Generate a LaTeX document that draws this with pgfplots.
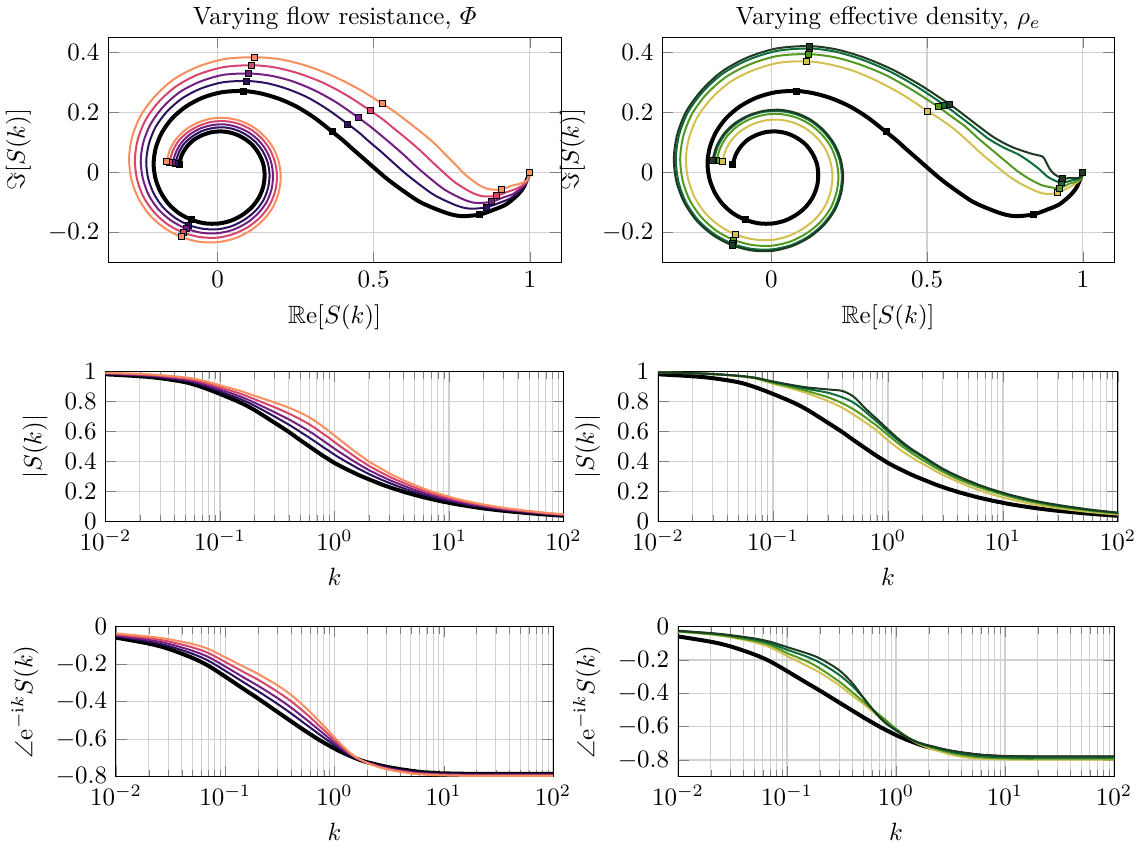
\documentclass[border=0pt]{standalone}
\usepackage{amsmath,amssymb}
\usepackage{pgfplots}
\usepackage{pgfplotstable}
\pgfplotsset{compat=1.18}

\definecolor{lA}{HTML}{2C115F}
\definecolor{lB}{HTML}{721F81}
\definecolor{lC}{HTML}{D6456C}
\definecolor{lD}{HTML}{F98E5F}
\definecolor{rA}{HTML}{1E3A20}
\definecolor{rB}{HTML}{0E6B3B}
\definecolor{rC}{HTML}{54991F}
\definecolor{rD}{HTML}{D2C150}

% varying flow resistance: black reference (0) and four curves (1..4)
\pgfplotstableread{
k m0 p0 m1 p1 m2 p2 m3 p3 m4 p4
0 1 0 1 0 1 0 1 0 1 0
0.01 0.983 -0.058 0.986 -0.051 0.988 -0.047 0.991 -0.041 0.993 -0.036
0.02 0.970 -0.090 0.975 -0.079 0.978 -0.070 0.982 -0.061 0.986 -0.052
0.03 0.957 -0.117 0.963 -0.102 0.968 -0.090 0.973 -0.078 0.978 -0.066
0.05 0.930 -0.166 0.940 -0.144 0.947 -0.128 0.954 -0.110 0.962 -0.092
0.07 0.897 -0.208 0.911 -0.181 0.920 -0.161 0.931 -0.140 0.942 -0.118
0.1 0.852 -0.266 0.869 -0.235 0.882 -0.212 0.896 -0.188 0.910 -0.163
0.15 0.795 -0.335 0.818 -0.299 0.835 -0.273 0.854 -0.244 0.872 -0.215
0.2 0.745 -0.383 0.774 -0.344 0.794 -0.315 0.817 -0.283 0.840 -0.252
0.3 0.660 -0.454 0.701 -0.411 0.730 -0.380 0.763 -0.346 0.795 -0.312
0.4 0.598 -0.504 0.647 -0.462 0.682 -0.431 0.721 -0.397 0.760 -0.363
0.5 0.545 -0.543 0.600 -0.504 0.640 -0.475 0.684 -0.443 0.728 -0.412
0.6 0.503 -0.573 0.561 -0.538 0.604 -0.512 0.650 -0.483 0.697 -0.455
0.7 0.468 -0.598 0.527 -0.567 0.570 -0.544 0.617 -0.520 0.664 -0.495
0.8 0.438 -0.618 0.496 -0.592 0.539 -0.572 0.585 -0.551 0.632 -0.530
0.9 0.414 -0.635 0.471 -0.613 0.512 -0.597 0.558 -0.579 0.603 -0.561
1.0 0.392 -0.650 0.447 -0.632 0.487 -0.619 0.531 -0.604 0.575 -0.590
1.2 0.360 -0.673 0.410 -0.663 0.447 -0.655 0.487 -0.646 0.527 -0.638
1.4 0.335 -0.690 0.381 -0.685 0.414 -0.682 0.451 -0.678 0.487 -0.674
1.6 0.314 -0.704 0.356 -0.703 0.387 -0.701 0.420 -0.700 0.454 -0.699
1.8 0.297 -0.715 0.336 -0.715 0.364 -0.715 0.395 -0.715 0.426 -0.715
2.0 0.283 -0.723 0.318 -0.724 0.344 -0.725 0.373 -0.726 0.401 -0.727
2.25 0.267 -0.730 0.300 -0.732 0.325 -0.734 0.351 -0.736 0.378 -0.738
2.5 0.253 -0.737 0.284 -0.740 0.307 -0.743 0.332 -0.745 0.357 -0.748
2.75 0.241 -0.742 0.271 -0.746 0.293 -0.749 0.316 -0.751 0.340 -0.754
3.0 0.231 -0.747 0.259 -0.751 0.279 -0.754 0.301 -0.757 0.323 -0.760
3.25 0.222 -0.751 0.249 -0.755 0.268 -0.758 0.289 -0.761 0.310 -0.764
3.5 0.214 -0.754 0.239 -0.758 0.258 -0.761 0.278 -0.765 0.298 -0.768
3.75 0.207 -0.757 0.231 -0.761 0.249 -0.764 0.268 -0.768 0.287 -0.771
4.0 0.200 -0.760 0.223 -0.764 0.240 -0.767 0.259 -0.771 0.277 -0.774
4.25 0.194 -0.762 0.216 -0.766 0.233 -0.769 0.251 -0.773 0.268 -0.776
4.5 0.189 -0.764 0.210 -0.768 0.226 -0.771 0.243 -0.775 0.260 -0.778
4.75 0.184 -0.766 0.204 -0.770 0.219 -0.773 0.236 -0.777 0.252 -0.780
5.0 0.179 -0.768 0.199 -0.772 0.213 -0.775 0.229 -0.779 0.245 -0.782
5.25 0.175 -0.770 0.194 -0.774 0.208 -0.777 0.223 -0.781 0.239 -0.784
5.5 0.171 -0.771 0.190 -0.775 0.203 -0.778 0.218 -0.782 0.233 -0.785
5.75 0.167 -0.773 0.185 -0.777 0.198 -0.780 0.212 -0.783 0.227 -0.786
6.0 0.163 -0.774 0.180 -0.778 0.193 -0.781 0.207 -0.784 0.221 -0.787
6.25 0.160 -0.775 0.177 -0.779 0.189 -0.782 0.203 -0.785 0.216 -0.788
6.5 0.157 -0.776 0.174 -0.780 0.186 -0.782 0.199 -0.785 0.212 -0.788
6.75 0.154 -0.777 0.170 -0.781 0.182 -0.783 0.195 -0.786 0.207 -0.789
7.0 0.151 -0.777 0.167 -0.781 0.178 -0.783 0.191 -0.786 0.203 -0.789
7.25 0.149 -0.778 0.164 -0.782 0.175 -0.784 0.187 -0.787 0.199 -0.790
7.5 0.146 -0.778 0.161 -0.782 0.172 -0.784 0.184 -0.787 0.196 -0.790
7.75 0.144 -0.779 0.158 -0.783 0.169 -0.785 0.181 -0.788 0.192 -0.791
8.0 0.141 -0.779 0.155 -0.783 0.166 -0.785 0.178 -0.788 0.189 -0.791
8.25 0.139 -0.780 0.153 -0.784 0.163 -0.786 0.175 -0.789 0.186 -0.792
8.5 0.137 -0.780 0.151 -0.784 0.161 -0.786 0.172 -0.789 0.183 -0.792
8.75 0.135 -0.781 0.148 -0.784 0.158 -0.787 0.169 -0.789 0.180 -0.792
9.0 0.133 -0.781 0.146 -0.784 0.156 -0.787 0.166 -0.789 0.177 -0.792
9.25 0.132 -0.782 0.144 -0.785 0.154 -0.788 0.164 -0.790 0.175 -0.793
9.5 0.130 -0.782 0.143 -0.785 0.152 -0.788 0.163 -0.790 0.173 -0.793
9.75 0.128 -0.782 0.140 -0.785 0.149 -0.788 0.160 -0.790 0.170 -0.793
10 0.126 -0.782 0.138 -0.785 0.147 -0.788 0.157 -0.790 0.167 -0.793
12 0.115 -0.783 0.126 -0.786 0.134 -0.789 0.142 -0.791 0.151 -0.794
15 0.103 -0.784 0.112 -0.787 0.119 -0.790 0.127 -0.792 0.134 -0.795
20 0.089 -0.785 0.097 -0.788 0.103 -0.790 0.109 -0.793 0.115 -0.795
30 0.073 -0.785 0.079 -0.788 0.083 -0.790 0.088 -0.793 0.093 -0.795
50 0.057 -0.785 0.062 -0.788 0.065 -0.790 0.068 -0.793 0.072 -0.795
70 0.048 -0.785 0.052 -0.788 0.054 -0.790 0.057 -0.793 0.060 -0.795
100 0.040 -0.785 0.043 -0.788 0.045 -0.790 0.048 -0.793 0.050 -0.795
}\tabL

% varying effective density: four curves (1..4)
\pgfplotstableread{
k m1 p1 m2 p2 m3 p3 m4 p4
0 1 0 1 0 1 0 1 0
0.01 0.995 -0.024 0.995 -0.026 0.995 -0.028 0.995 -0.030
0.02 0.990 -0.038 0.990 -0.040 0.990 -0.044 0.990 -0.047
0.03 0.985 -0.050 0.985 -0.053 0.984 -0.059 0.984 -0.063
0.05 0.973 -0.070 0.973 -0.076 0.972 -0.085 0.971 -0.093
0.07 0.960 -0.090 0.959 -0.100 0.957 -0.110 0.955 -0.124
0.1 0.935 -0.122 0.932 -0.138 0.926 -0.158 0.920 -0.175
0.15 0.910 -0.158 0.905 -0.178 0.895 -0.205 0.885 -0.232
0.2 0.895 -0.190 0.885 -0.215 0.870 -0.250 0.855 -0.275
0.3 0.882 -0.260 0.860 -0.288 0.830 -0.328 0.805 -0.350
0.4 0.872 -0.340 0.830 -0.358 0.790 -0.395 0.760 -0.415
0.5 0.835 -0.425 0.795 -0.425 0.750 -0.448 0.715 -0.462
0.6 0.775 -0.490 0.750 -0.490 0.710 -0.492 0.675 -0.505
0.7 0.725 -0.540 0.705 -0.540 0.672 -0.528 0.640 -0.538
0.8 0.685 -0.577 0.668 -0.575 0.640 -0.558 0.607 -0.566
0.9 0.648 -0.602 0.632 -0.600 0.607 -0.588 0.574 -0.592
1.0 0.615 -0.622 0.600 -0.620 0.578 -0.612 0.542 -0.615
1.2 0.560 -0.655 0.548 -0.654 0.528 -0.651 0.495 -0.652
1.4 0.518 -0.678 0.508 -0.678 0.490 -0.679 0.458 -0.681
1.6 0.485 -0.694 0.476 -0.695 0.458 -0.698 0.430 -0.702
1.8 0.460 -0.704 0.452 -0.707 0.433 -0.710 0.406 -0.716
2.0 0.438 -0.712 0.430 -0.716 0.411 -0.720 0.387 -0.728
2.25 0.413 -0.720 0.405 -0.725 0.388 -0.729 0.365 -0.738
2.5 0.390 -0.728 0.382 -0.733 0.366 -0.738 0.344 -0.748
2.75 0.371 -0.734 0.364 -0.740 0.349 -0.745 0.328 -0.756
3.0 0.353 -0.740 0.347 -0.746 0.333 -0.752 0.312 -0.763
3.25 0.340 -0.744 0.334 -0.751 0.320 -0.757 0.300 -0.768
3.5 0.327 -0.748 0.321 -0.755 0.307 -0.762 0.288 -0.773
3.75 0.316 -0.751 0.310 -0.759 0.296 -0.766 0.278 -0.777
4.0 0.306 -0.754 0.300 -0.762 0.286 -0.769 0.268 -0.780
4.25 0.297 -0.757 0.292 -0.765 0.278 -0.772 0.260 -0.783
4.5 0.289 -0.759 0.284 -0.767 0.270 -0.774 0.252 -0.785
4.75 0.281 -0.761 0.276 -0.769 0.263 -0.776 0.244 -0.787
5.0 0.274 -0.763 0.269 -0.771 0.256 -0.778 0.237 -0.788
5.25 0.268 -0.765 0.263 -0.773 0.250 -0.780 0.231 -0.789
5.5 0.262 -0.766 0.257 -0.774 0.245 -0.781 0.226 -0.790
5.75 0.255 -0.767 0.251 -0.775 0.239 -0.782 0.220 -0.791
6.0 0.249 -0.768 0.245 -0.776 0.233 -0.783 0.214 -0.792
6.25 0.244 -0.769 0.240 -0.777 0.229 -0.784 0.210 -0.793
6.5 0.240 -0.770 0.236 -0.778 0.225 -0.785 0.206 -0.793
6.75 0.235 -0.771 0.231 -0.779 0.220 -0.786 0.201 -0.794
7.0 0.231 -0.771 0.227 -0.779 0.216 -0.786 0.197 -0.794
7.25 0.227 -0.772 0.223 -0.780 0.212 -0.787 0.193 -0.795
7.5 0.223 -0.772 0.219 -0.780 0.209 -0.787 0.190 -0.795
7.75 0.219 -0.773 0.215 -0.781 0.205 -0.788 0.186 -0.795
8.0 0.216 -0.773 0.212 -0.781 0.202 -0.788 0.183 -0.795
8.25 0.213 -0.774 0.209 -0.782 0.199 -0.789 0.180 -0.796
8.5 0.210 -0.774 0.206 -0.782 0.196 -0.789 0.177 -0.796
8.75 0.206 -0.775 0.203 -0.783 0.193 -0.790 0.174 -0.796
9.0 0.203 -0.775 0.200 -0.783 0.190 -0.790 0.171 -0.796
9.25 0.201 -0.775 0.197 -0.783 0.188 -0.790 0.169 -0.796
9.5 0.199 -0.775 0.195 -0.783 0.186 -0.790 0.167 -0.796
9.75 0.196 -0.776 0.192 -0.784 0.183 -0.790 0.164 -0.796
10 0.193 -0.776 0.189 -0.784 0.180 -0.790 0.161 -0.796
12 0.176 -0.777 0.173 -0.785 0.163 -0.791 0.146 -0.797
15 0.158 -0.778 0.153 -0.786 0.145 -0.792 0.130 -0.797
20 0.136 -0.778 0.133 -0.786 0.125 -0.792 0.111 -0.797
30 0.112 -0.778 0.108 -0.786 0.101 -0.792 0.090 -0.797
50 0.087 -0.778 0.084 -0.786 0.079 -0.792 0.069 -0.797
70 0.073 -0.778 0.071 -0.786 0.066 -0.792 0.058 -0.797
100 0.061 -0.778 0.059 -0.786 0.055 -0.792 0.048 -0.797
}\tabR

\pgfplotsset{
  myax/.style={scale only axis, grid=both,
    major grid style={black!18, line width=0.5pt},
    minor grid style={black!18, line width=0.4pt}},
  nyqax/.style={myax, xmin=-0.35, xmax=1.1, ymin=-0.3, ymax=0.45,
    xtick={0,0.5,1}, ytick={-0.2,0,0.2,0.4}, height=90pt,
    xlabel={$\mathbb{R}\mathrm{e}[S(k)]$}, ylabel={$\Im[S(k)]$},
    title style={yshift=-6.5pt}},
  magstyle/.style={myax, xmin=0.01, xmax=100, ymin=0, ymax=1,
    height=60pt, xlabel={$k$}, ylabel={$|S(k)|$}},
  phstyle/.style={myax, xmin=0.01, xmax=100, ymax=0,
    ytick={-0.8,-0.6,-0.4,-0.2,0}, height=60pt,
    xlabel={$k$}, ylabel={$\angle\mathrm{e}^{-\mathrm{i}k}S(k)$}},
}

% #1 table, #2 column suffix, #3 colour, #4 line width
% marks at k = 0, 0.1, 1, 2, 5, 10 (1-based row numbers); rows past k=10 left out
\newcommand{\spiral}[4]{%
  \addplot[draw=#3, line width=#4, smooth, mark=square*,
    mark indices={1,7,17,22,34,54}, mark size=1.2pt,
    mark options={solid, fill=#3, draw=black, line width=0.35pt},
    skip coords between index={54}{61}]
  table[x expr={\thisrow{m#2}*cos(deg(\thisrow{k}+\thisrow{p#2}))},
        y expr={\thisrow{m#2}*sin(deg(\thisrow{k}+\thisrow{p#2}))}]{#1};}
\newcommand{\magp}[4]{%
  \addplot[draw=#3, line width=#4, smooth, skip coords between index={0}{1}]
  table[x=k, y=m#2]{#1};}
\newcommand{\php}[4]{%
  \addplot[draw=#3, line width=#4, smooth, skip coords between index={0}{1}]
  table[x=k, y=p#2]{#1};}

\begin{document}
\begin{tikzpicture}
\useasboundingbox (0,0) rectangle (454.8pt,336.8pt);

% ---- row 1: spirals
\begin{axis}[nyqax, at={(43.3pt,231.9pt)}, anchor=south west, width=181.1pt,
  title={Varying flow resistance, $\varPhi$}]
\spiral{\tabL}{0}{black}{1.6pt}
\spiral{\tabL}{1}{lA}{0.8pt}
\spiral{\tabL}{2}{lB}{0.8pt}
\spiral{\tabL}{3}{lC}{0.8pt}
\spiral{\tabL}{4}{lD}{0.8pt}
\end{axis}

\begin{axis}[nyqax, at={(264.9pt,231.9pt)}, anchor=south west, width=180.7pt,
  title={Varying effective density, $\rho_e$}]
\spiral{\tabL}{0}{black}{1.6pt}
\spiral{\tabR}{4}{rD}{0.8pt}
\spiral{\tabR}{3}{rC}{0.8pt}
\spiral{\tabR}{2}{rB}{0.8pt}
\spiral{\tabR}{1}{rA}{0.8pt}
\end{axis}

% ---- row 2: magnitude
\begin{semilogxaxis}[magstyle, at={(42.2pt,128.1pt)}, anchor=south west, width=183.2pt]
\magp{\tabL}{0}{black}{1.6pt}
\magp{\tabL}{1}{lA}{0.8pt}
\magp{\tabL}{2}{lB}{0.8pt}
\magp{\tabL}{3}{lC}{0.8pt}
\magp{\tabL}{4}{lD}{0.8pt}
\end{semilogxaxis}

\begin{semilogxaxis}[magstyle, at={(263.2pt,128.1pt)}, anchor=south west, width=184pt]
\magp{\tabL}{0}{black}{1.6pt}
\magp{\tabR}{4}{rD}{0.8pt}
\magp{\tabR}{3}{rC}{0.8pt}
\magp{\tabR}{2}{rB}{0.8pt}
\magp{\tabR}{1}{rA}{0.8pt}
\end{semilogxaxis}

% ---- row 3: phase
\begin{semilogxaxis}[phstyle, ymin=-0.8, at={(46.4pt,26.1pt)}, anchor=south west, width=174.8pt]
\php{\tabL}{0}{black}{1.6pt}
\php{\tabL}{1}{lA}{0.8pt}
\php{\tabL}{2}{lB}{0.8pt}
\php{\tabL}{3}{lC}{0.8pt}
\php{\tabL}{4}{lD}{0.8pt}
\end{semilogxaxis}

\begin{semilogxaxis}[phstyle, ymin=-0.9, at={(271.2pt,26.1pt)}, anchor=south west, width=174.4pt]
\php{\tabL}{0}{black}{1.6pt}
\php{\tabR}{4}{rD}{0.8pt}
\php{\tabR}{3}{rC}{0.8pt}
\php{\tabR}{2}{rB}{0.8pt}
\php{\tabR}{1}{rA}{0.8pt}
\end{semilogxaxis}
\end{tikzpicture}
\end{document}
